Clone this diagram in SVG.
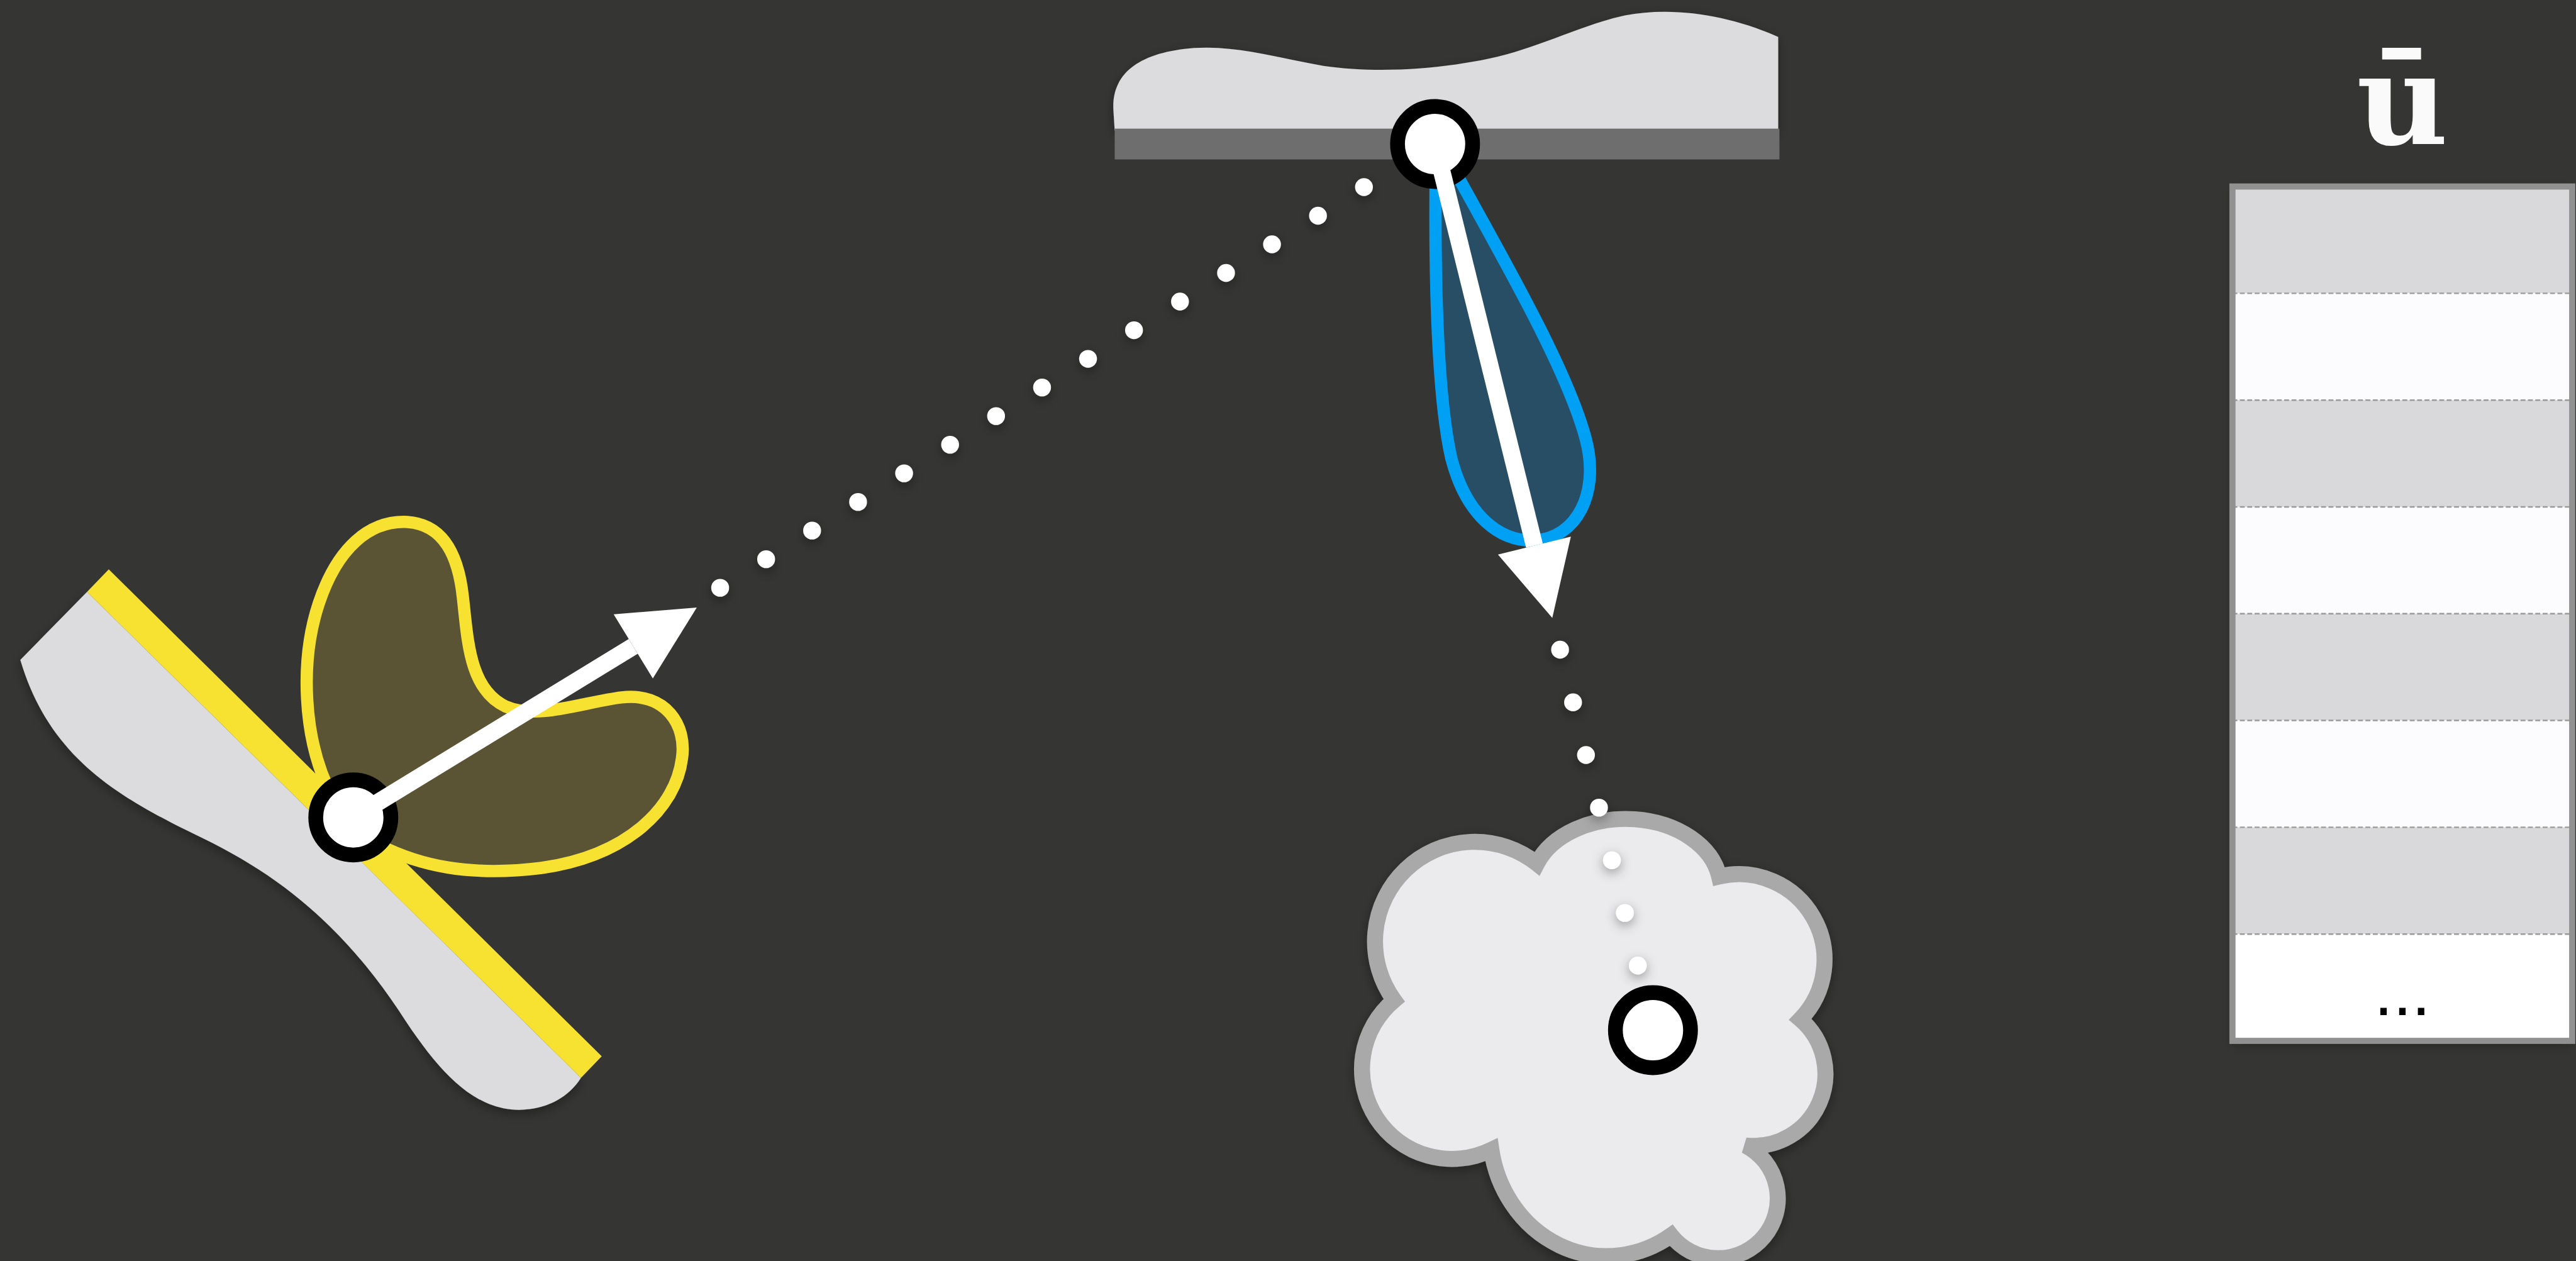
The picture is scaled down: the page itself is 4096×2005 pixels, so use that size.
<svg xmlns="http://www.w3.org/2000/svg" width="4096" height="2005" viewBox="0 0 4096 2005">
  <defs>
    <filter id="shadow" x="-20%" y="-20%" width="140%" height="140%">
      <feDropShadow dx="0" dy="6" stdDeviation="9" flood-color="#000" flood-opacity="0.35"/>
    </filter>
    <marker id="head" markerUnits="userSpaceOnUse" markerWidth="130" markerHeight="130" refX="0" refY="0" orient="auto" overflow="visible">
      <path d="M0,-61 L121,0 L0,61 Z" fill="#ffffff"/>
    </marker>
  </defs>
  <style>
    .surface { fill: #dcdcde; }
    .pin { fill: #ffffff; stroke: #000000; stroke-width: 24; }
    .vector { fill: none; stroke: #ffffff; stroke-width: 28; marker-end: url(#head); }
    .dots { fill: none; stroke: #ffffff; stroke-width: 29; stroke-linecap: round; }
    .rowline { stroke: #9a9a9a; stroke-width: 2.5; stroke-dasharray: 8 4; }
    .grey { fill: #d9d9db; }
    .light { fill: #fcfcfe; }
  </style>
  <rect width="4096" height="2005" fill="#353533"/>
  <g transform="scale(0.9787)">

    <!-- left: curved surface with highlighted tangent band and lobe -->
    <g id="surface-left">
      <path class="surface" filter="url(#shadow)" d="M141.5,961.6 L33,1072 C 80,1230 190,1295 330,1362 C 470,1430 570,1520 660,1660 C 720,1750 780,1812 860,1802 C 900,1797 928,1776 944,1751 Z"/>
      <polygon points="176.7,925 977.6,1716 943.9,1751 141.5,961.6" fill="#f8e231"/>
      <path d="M540,1295 C 490,1200 488,1070 518,980 C 548,890 600,845 662,848 C 722,852 745,905 752,970 C 760,1040 762,1120 822,1148 C 872,1170 950,1140 1010,1133 C 1082,1125 1116,1178 1108,1232 C 1098,1312 1020,1390 880,1410 C 760,1425 680,1405 618,1374 Z" fill="#5a5434" stroke="#f8e231" stroke-width="20"/>
      <circle class="pin" cx="574" cy="1328" r="61"/>
      <path class="vector" d="M574,1328 L1028.8,1050.1"/>
    </g>

    <!-- top: surface with base strip and reflection lobe -->
    <g id="surface-top">
      <path class="surface" filter="url(#shadow)" d="M1811,212 L1809,180 C 1805,120 1850,85 1940,78 C 2010,73 2080,95 2150,107 C 2240,120 2340,112 2420,95 C 2500,78 2570,40 2640,25 C 2720,10 2810,25 2889,60 L 2889,212 Z"/>
      <rect x="1811" y="209" width="1080" height="50" fill="#6e6e6e"/>
      <path d="M2333,250 C 2330,430 2334,640 2358,745 C 2383,840 2438,880 2492,878 C 2562,875 2600,800 2576,712 C 2546,600 2442,420 2366,282 Z" fill="#274e64" stroke="#00a0f5" stroke-width="20"/>
      <circle class="pin" cx="2331.5" cy="234" r="61"/>
      <path class="vector" d="M2331.5,234 L2492.9,886.4"/>
    </g>

    <!-- cloud volume: seven round puffs joined at sharp notches -->
    <g id="cloud">
      <path filter="url(#shadow)" fill="#ebebed" stroke="#a9a9a9" stroke-width="26" stroke-linejoin="miter" d="M2497,1403 A154,112 0 0 1 2793,1424 A139,139 0 0 1 2925,1656 A117,117 0 0 1 2836,1861 A97,97 0 1 1 2715,2007 A190,205 0 0 1 2423,1868 A146,146 0 0 1 2265,1625 A162,162 0 0 1 2497,1403 Z"/>
      <circle class="pin" cx="2685.5" cy="1673.7" r="61"/>
    </g>

    <!-- sample table -->
    <g id="table">
      <text x="3903" y="234" text-anchor="middle" font-family="'DejaVu Serif', serif" font-weight="bold" font-size="205" fill="#fafafa">ū</text>
      <rect x="3627" y="303" width="552" height="1388" fill="#fcfcfe" filter="url(#shadow)"/>
      <rect class="grey" x="3627" y="303" width="552" height="173.5"/>
      <rect class="light" x="3627" y="476.5" width="552" height="173.5"/>
      <rect class="grey" x="3627" y="650" width="552" height="173.5"/>
      <rect class="light" x="3627" y="823.5" width="552" height="173.5"/>
      <rect class="grey" x="3627" y="997" width="552" height="173.5"/>
      <rect class="light" x="3627" y="1170.5" width="552" height="173.5"/>
      <rect class="grey" x="3627" y="1344" width="552" height="173.5"/>
      <rect x="3627" y="1517.5" width="552" height="173.5" fill="#ffffff"/>
      <g class="rowline">
        <line x1="3627" y1="476.5" x2="4179" y2="476.5"/>
        <line x1="3627" y1="650" x2="4179" y2="650"/>
        <line x1="3627" y1="823.5" x2="4179" y2="823.5"/>
        <line x1="3627" y1="997" x2="4179" y2="997"/>
        <line x1="3627" y1="1170.5" x2="4179" y2="1170.5"/>
        <line x1="3627" y1="1344" x2="4179" y2="1344"/>
        <line x1="3627" y1="1517.5" x2="4179" y2="1517.5"/>
      </g>
      <rect x="3627" y="303" width="552" height="1388" fill="none" stroke="#919191" stroke-width="10"/>
      <text x="3903" y="1649" text-anchor="middle" font-family="'Liberation Sans', sans-serif" font-size="110" fill="#000000">...</text>
    </g>

    <!-- dotted connectors between the pins -->
    <g id="connectors" filter="url(#shadow)">
      <path class="dots" d="M1170,955h0 M1244.7,908.5h0 M1319.4,862h0 M1394.1,815.5h0 M1468.9,769h0 M1543.6,722.5h0 M1618.3,676h0 M1693,629.5h0 M1767.7,583h0 M1842.4,536.5h0 M1917.1,490h0 M1991.9,443.5h0 M2066.6,397h0 M2141.3,350.5h0 M2216,304h0"/>
      <path class="dots" d="M2534.6,1055.5h0 M2555.7,1141h0 M2576.7,1226.6h0 M2597.8,1312.1h0 M2618.8,1397.6h0 M2639.9,1483.2h0 M2660.9,1568.7h0"/>
    </g>
  </g>
</svg>
